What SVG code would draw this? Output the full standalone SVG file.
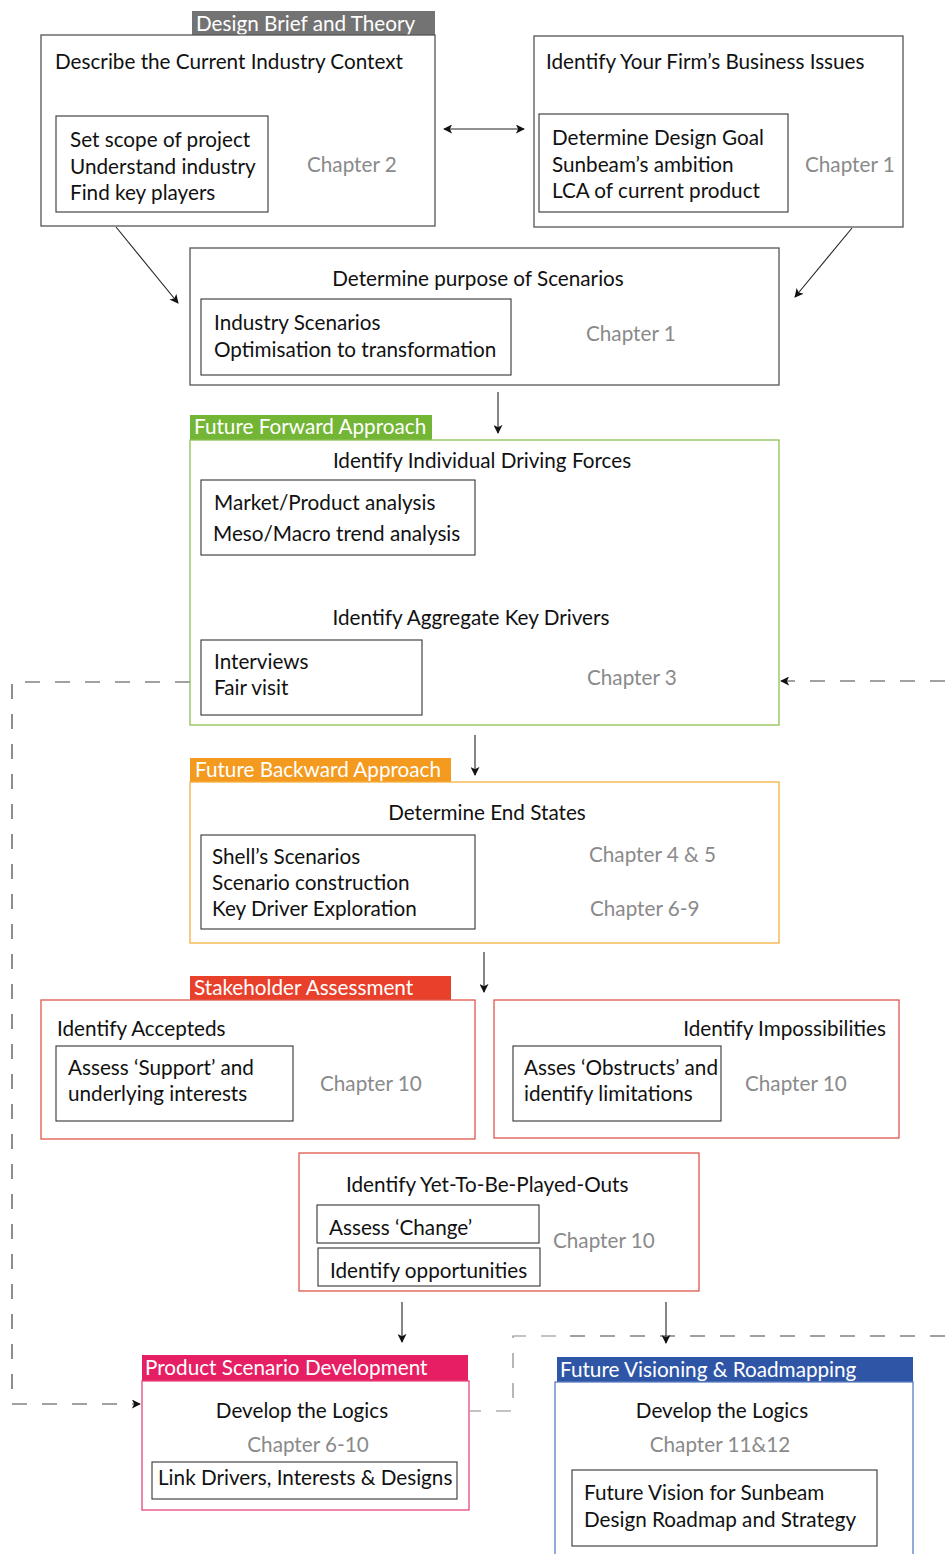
<svg xmlns="http://www.w3.org/2000/svg" width="945" height="1554" viewBox="0 0 945 1554">
  <defs>
    <marker id="ah" viewBox="0 0 10 10" refX="9" refY="5" markerWidth="9" markerHeight="9" markerUnits="userSpaceOnUse" orient="auto-start-reverse">
      <path d="M0,0 L10,5 L0,10 L2.5,5 Z" fill="#111"/>
    </marker>
  </defs>
  <style>
    text { font-family: "Lato", "Liberation Sans", sans-serif; font-size: 20.7px; fill: #111; }
    .ch { fill: #8a8a8a; }
    .lbl { fill: #fff; font-size: 20.7px; }
    .mid { text-anchor: middle; }
    .end { text-anchor: end; }
    .frame { fill: #fff; stroke-width: 1.3; }
    .inner { fill: #fff; stroke: #333; stroke-width: 1.1; }
    .conn { fill: none; stroke: #222; stroke-width: 1.1; }
    .dash { fill: none; stroke: #444; stroke-width: 1.2; stroke-dasharray: 15 15; }
    .dash2 { fill: none; stroke: #888; stroke-width: 1.2; stroke-dasharray: 15 15; }
  </style>
  <rect width="945" height="1554" fill="#fff"/>

  <!-- connectors -->
  <g id="connectors">
    <line class="conn" x1="444" y1="129" x2="524" y2="129" marker-start="url(#ah)" marker-end="url(#ah)"/>
    <line class="conn" x1="116" y1="227" x2="178" y2="303" marker-end="url(#ah)"/>
    <line class="conn" x1="852" y1="228" x2="795" y2="297" marker-end="url(#ah)"/>
    <line class="conn" x1="498" y1="392" x2="498" y2="433" marker-end="url(#ah)"/>
    <line class="conn" x1="475" y1="735" x2="475" y2="775" marker-end="url(#ah)"/>
    <line class="conn" x1="484" y1="952" x2="484" y2="992" marker-end="url(#ah)"/>
    <line class="conn" x1="402" y1="1302" x2="402" y2="1342" marker-end="url(#ah)"/>
    <path class="dash" d="M190,682 H12 V1404 H140" marker-end="url(#ah)"/>
    <path class="dash" d="M945,681 H781" marker-end="url(#ah)"/>
    <path class="dash" d="M945,1336 H556"/>
    <path class="dash2" d="M556,1336 H513 V1411 H470"/>
    <line class="conn" x1="666" y1="1302" x2="666" y2="1343" marker-end="url(#ah)"/>
  </g>

  <!-- Design Brief and Theory: industry context -->
  <g id="industry-context">
    <rect x="192" y="11" width="243" height="24" fill="#737373"/>
    <text class="lbl" x="196" y="31">Design Brief and Theory</text>
    <rect class="frame" x="41" y="35" width="394" height="191" stroke="#555"/>
    <text x="55" y="69">Describe the Current Industry Context</text>
    <rect class="inner" x="56" y="116" width="212" height="96"/>
    <text x="70" y="147">Set scope of project</text>
    <text x="70" y="174">Understand industry</text>
    <text x="70" y="200">Find key players</text>
    <text class="ch" x="307" y="172">Chapter 2</text>
  </g>

  <!-- business issues -->
  <g id="business-issues">
    <rect class="frame" x="534" y="36" width="369" height="191" stroke="#555"/>
    <text x="546" y="69">Identify Your Firm’s Business Issues</text>
    <rect class="inner" x="539" y="114" width="249" height="98"/>
    <text x="552" y="145">Determine Design Goal</text>
    <text x="552" y="172">Sunbeam’s ambition</text>
    <text x="552" y="198">LCA of current product</text>
    <text class="ch" x="805" y="172">Chapter 1</text>
  </g>

  <!-- purpose of scenarios -->
  <g id="purpose">
    <rect class="frame" x="190" y="248" width="589" height="137" stroke="#555"/>
    <text class="mid" x="478" y="286">Determine purpose of Scenarios</text>
    <rect class="inner" x="201" y="299" width="310" height="76"/>
    <text x="214" y="330">Industry Scenarios</text>
    <text x="214" y="357">Optimisation to transformation</text>
    <text class="ch" x="586" y="341">Chapter 1</text>
  </g>

  <!-- Future Forward Approach -->
  <g id="future-forward">
    <rect x="190" y="415" width="242" height="25" fill="#73b535"/>
    <text class="lbl" x="194" y="434">Future Forward Approach</text>
    <rect class="frame" x="190" y="440" width="589" height="285" stroke="#8cc152"/>
    <text class="mid" x="482" y="468">Identify Individual Driving Forces</text>
    <rect class="inner" x="201" y="480" width="274" height="75"/>
    <text x="214" y="510">Market/Product analysis</text>
    <text x="213" y="541">Meso/Macro trend analysis</text>
    <text class="mid" x="471" y="625">Identify Aggregate Key Drivers</text>
    <rect class="inner" x="201" y="640" width="221" height="75"/>
    <text x="214" y="669">Interviews</text>
    <text x="214" y="695">Fair visit</text>
    <text class="ch" x="587" y="685">Chapter 3</text>
  </g>

  <!-- Future Backward Approach -->
  <g id="future-backward">
    <rect x="190" y="758" width="261" height="24" fill="#f39a1f"/>
    <text class="lbl" x="195" y="777">Future Backward Approach</text>
    <rect class="frame" x="190" y="782" width="589" height="161" stroke="#f5b040"/>
    <text class="mid" x="487" y="820">Determine End States</text>
    <rect class="inner" x="201" y="835" width="274" height="94"/>
    <text x="212" y="864">Shell’s Scenarios</text>
    <text x="212" y="890">Scenario construction</text>
    <text x="212" y="916">Key Driver Exploration</text>
    <text class="ch" x="589" y="862">Chapter 4 &amp; 5</text>
    <text class="ch" x="590" y="916">Chapter 6-9</text>
  </g>

  <!-- Stakeholder Assessment: accepteds -->
  <g id="accepteds">
    <rect x="190" y="976" width="261" height="24" fill="#e8402b"/>
    <text class="lbl" x="194" y="995">Stakeholder Assessment</text>
    <rect class="frame" x="41" y="1000" width="434" height="139" stroke="#e2564a"/>
    <text x="57" y="1036">Identify Accepteds</text>
    <rect class="inner" x="56" y="1046" width="237" height="75"/>
    <text x="68" y="1075">Assess ‘Support’ and</text>
    <text x="68" y="1101">underlying interests</text>
    <text class="ch" x="320" y="1091">Chapter 10</text>
  </g>

  <!-- impossibilities -->
  <g id="impossibilities">
    <rect class="frame" x="494" y="1000" width="405" height="138" stroke="#e2564a"/>
    <text class="end" x="886" y="1036">Identify Impossibilities</text>
    <rect class="inner" x="513" y="1046" width="208" height="75"/>
    <text x="524" y="1075">Asses ‘Obstructs’ and</text>
    <text x="524" y="1101">identify limitations</text>
    <text class="ch" x="745" y="1091">Chapter 10</text>
  </g>

  <!-- yet-to-be-played-outs -->
  <g id="yet-to-be-played-outs">
    <rect class="frame" x="299" y="1153" width="400" height="138" stroke="#e2564a"/>
    <text x="346" y="1192">Identify Yet-To-Be-Played-Outs</text>
    <rect class="inner" x="317" y="1205" width="222" height="38"/>
    <text x="329" y="1235">Assess ‘Change’</text>
    <rect class="inner" x="318" y="1248" width="222" height="38"/>
    <text x="330" y="1278">Identify opportunities</text>
    <text class="ch" x="553" y="1248">Chapter 10</text>
  </g>

  <!-- Product Scenario Development -->
  <g id="product-scenario">
    <rect x="142" y="1355" width="326" height="26" fill="#e61f64"/>
    <text class="lbl" x="145" y="1375">Product Scenario Development</text>
    <rect class="frame" x="142" y="1381" width="327" height="129" stroke="#e8457c"/>
    <text class="mid" x="302" y="1418">Develop the Logics</text>
    <text class="ch mid" x="308" y="1452">Chapter 6-10</text>
    <rect class="inner" x="152" y="1462" width="305" height="37"/>
    <text x="158" y="1485">Link Drivers, Interests &amp; Designs</text>
  </g>

  <!-- Future Visioning & Roadmapping -->
  <g id="future-visioning">
    <rect x="557" y="1357" width="356" height="25" fill="#2f56a6"/>
    <text class="lbl" x="560" y="1377">Future Visioning &amp; Roadmapping</text>
    <rect class="frame" x="555" y="1382" width="358" height="180" stroke="#5b7cc1"/>
    <text class="mid" x="722" y="1418">Develop the Logics</text>
    <text class="ch mid" x="720" y="1452">Chapter 11&amp;12</text>
    <rect class="inner" x="572" y="1470" width="305" height="76"/>
    <text x="584" y="1500">Future Vision for Sunbeam</text>
    <text x="584" y="1527">Design Roadmap and Strategy</text>
  </g>
</svg>
